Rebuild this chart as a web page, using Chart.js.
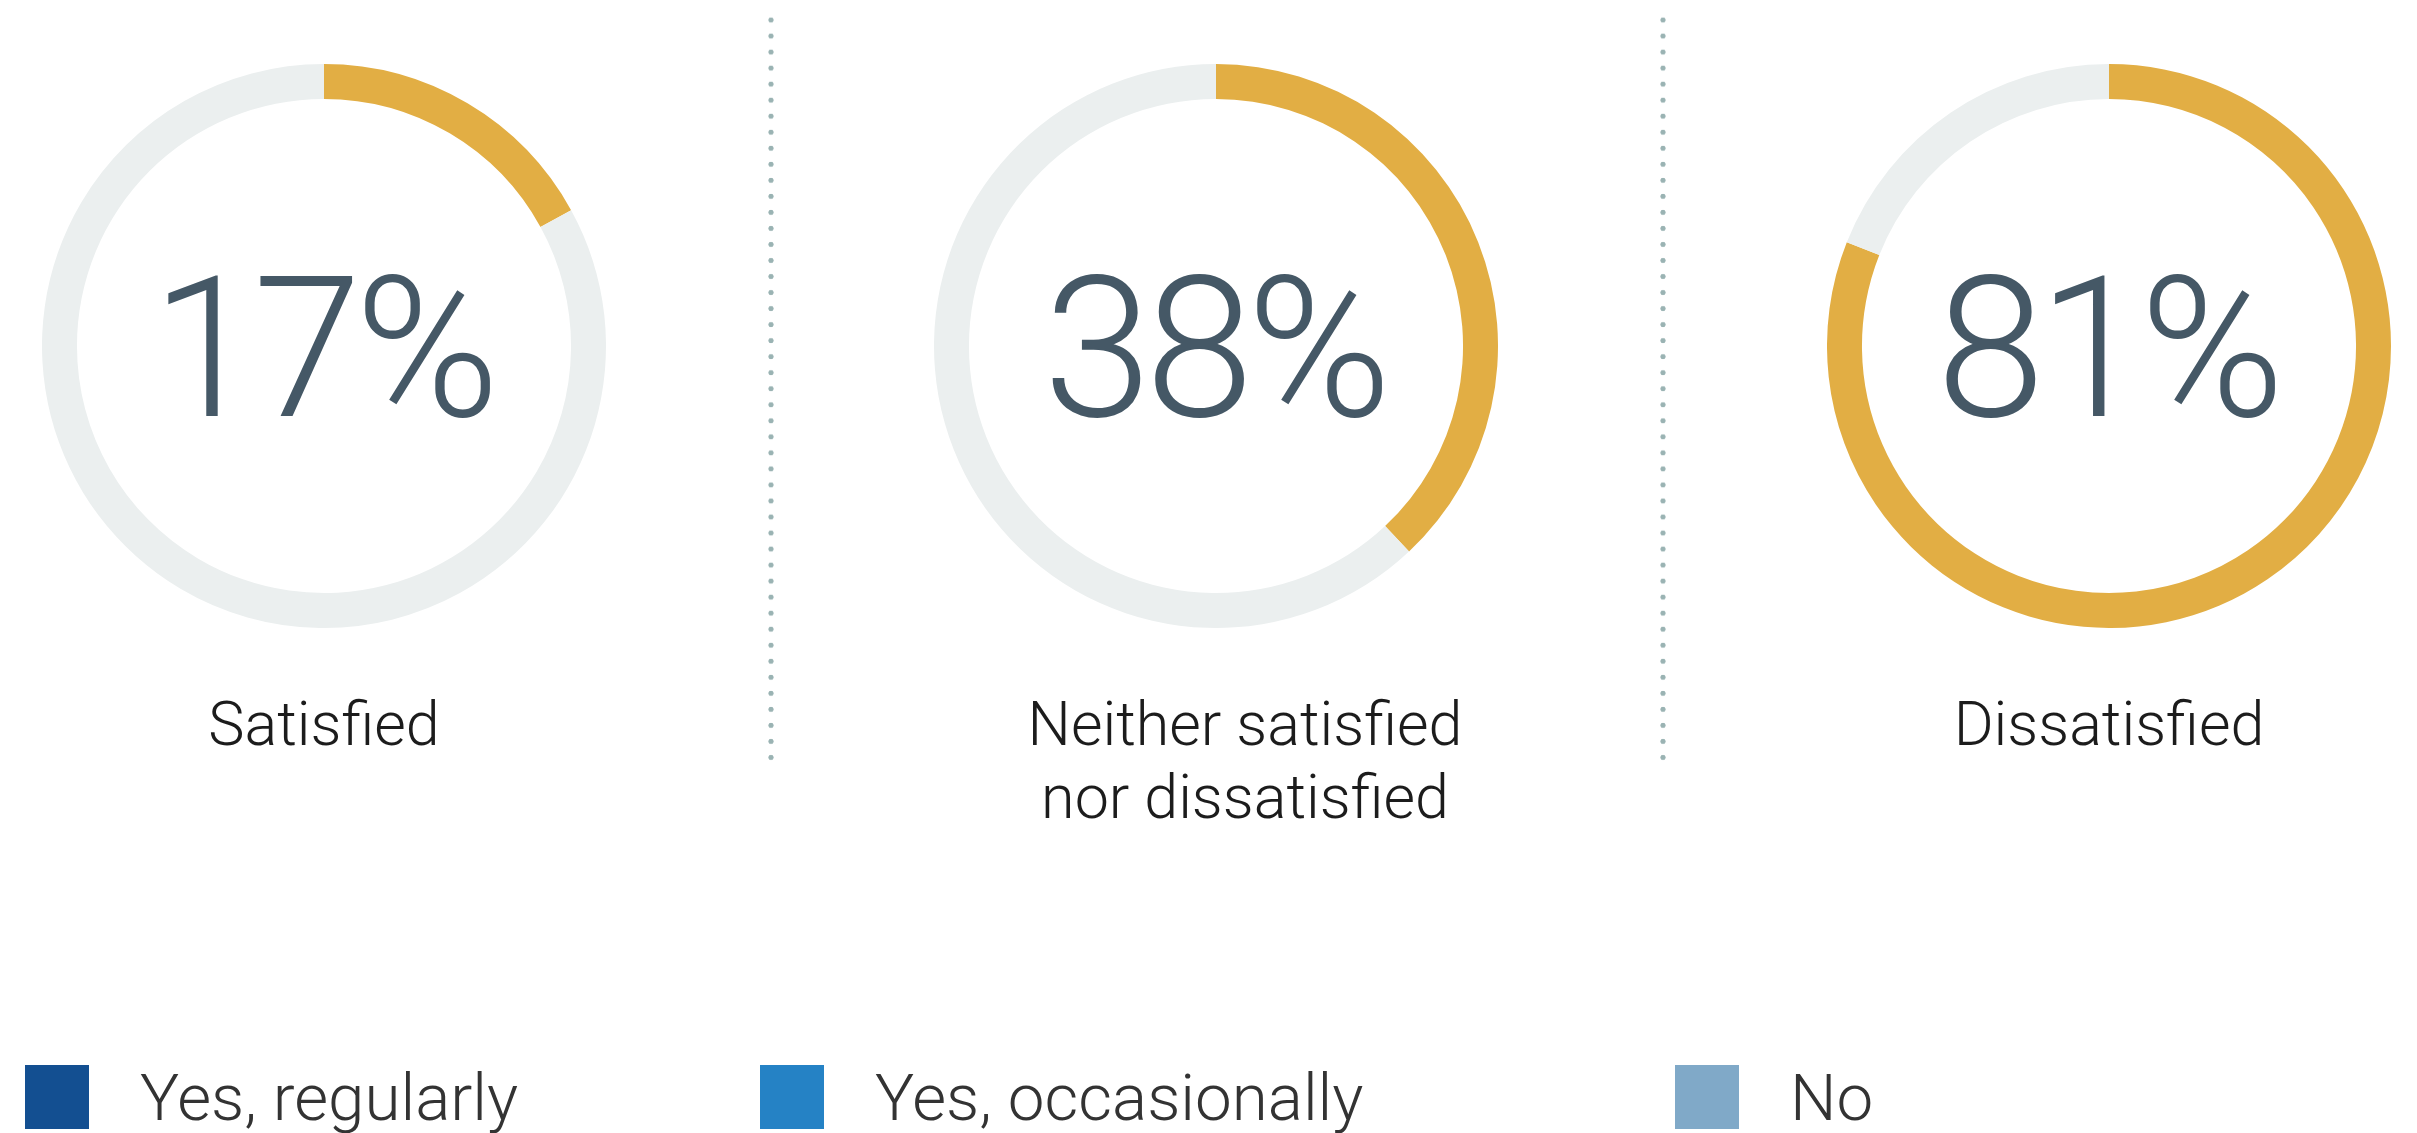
<!DOCTYPE html>
<html>
<head>
<meta charset="utf-8">
<script src="https://cdn.jsdelivr.net/npm/chart.js@4/dist/chart.umd.min.js"></script>
<style>
  html, body { margin: 0; padding: 0; background: #fff; }
  body { width: 2417px; height: 1133px; position: relative; overflow: hidden;
         font-family: Roboto, "Noto Sans", sans-serif; font-weight: 300; }
  .donut { position: absolute; top: 64px; width: 564px; height: 564px; }
  .label { position: absolute; top: 688px; width: 700px; text-align: center;
           font-size: 61px; line-height: 73px; color: #1c1c1c; }
  .divider { position: absolute; top: 12px; width: 8px; height: 750px;
             background: radial-gradient(circle, #9ab3b3 2.3px, transparent 2.9px) 0 0 / 8px 16.04px repeat-y; }
  .leg-box { position: absolute; top: 1065px; width: 64px; height: 64px; }
  .leg-text { position: absolute; top: 1065px; font-size: 65.5px; line-height: 66px;
              color: #333; white-space: nowrap; }
</style>
</head>
<body>
<script>
// Share answering each category (percent). Grey remainder is 100 - share.
const categories = [["Satisfied"], ["Neither satisfied", "nor dissatisfied"], ["Dissatisfied"]];
const shares = [17, 38, 81];
const legendLabels = ["Yes, regularly", "Yes, occasionally", "No"];
const legendColors = ["#134f91", "#2582c5", "#80a9c8"];

const centersX = [324, 1216, 2109];
const labelShiftX = [0, 29, 0];   // the middle caption sits a bit right of its ring
const dividersX = [771, 1663];
const legendX = [25, 760, 1675];

const ACCENT = "#e2ae44";
const TRACK = "#ebefef";

// Draws the big percentage in the hole of each ring
const centerText = {
  id: "centerText",
  afterDraw(chart) {
    const { ctx, chartArea } = chart;
    const v = chart.data.datasets[0].data[0];
    const cx = (chartArea.left + chartArea.right) / 2;
    const cy = (chartArea.top + chartArea.bottom) / 2;
    ctx.save();
    ctx.font = "300 196px Roboto";
    ctx.letterSpacing = "-7px";
    ctx.fillStyle = "#455866";
    ctx.textAlign = "center";
    ctx.textBaseline = "alphabetic";
    ctx.fillText(v + "%", cx - 2, cy + 70);
    ctx.restore();
  },
};

categories.forEach((lines, i) => {
  const box = document.createElement("div");
  box.className = "donut";
  box.style.left = (centersX[i] - 282) + "px";
  const cv = document.createElement("canvas");
  box.appendChild(cv);
  document.body.appendChild(box);

  new Chart(cv, {
    type: "doughnut",
    data: {
      labels: [lines.join(" "), "Other"],
      datasets: [{
        data: [shares[i], 100 - shares[i]],
        backgroundColor: [ACCENT, TRACK],
        borderWidth: 0,
        hoverOffset: 0,
      }],
    },
    options: {
      responsive: true, maintainAspectRatio: false,
      animation: false,
      cutout: "87.6%",
      layout: { padding: 0 },
      plugins: { legend: { display: false }, tooltip: { enabled: false } },
    },
    plugins: [centerText],
  });

  const lab = document.createElement("div");
  lab.className = "label";
  lab.style.left = (centersX[i] + labelShiftX[i] - 350) + "px";
  lab.innerHTML = lines.join("<br>");
  document.body.appendChild(lab);
});

dividersX.forEach(x => {
  const d = document.createElement("div");
  d.className = "divider";
  d.style.left = (x - 4) + "px";
  document.body.appendChild(d);
});

legendLabels.forEach((t, i) => {
  const b = document.createElement("div");
  b.className = "leg-box";
  b.style.left = legendX[i] + "px";
  b.style.background = legendColors[i];
  document.body.appendChild(b);
  const s = document.createElement("div");
  s.className = "leg-text";
  s.style.left = (legendX[i] + 115) + "px";
  s.textContent = t;
  document.body.appendChild(s);
});
</script>
</body>
</html>
